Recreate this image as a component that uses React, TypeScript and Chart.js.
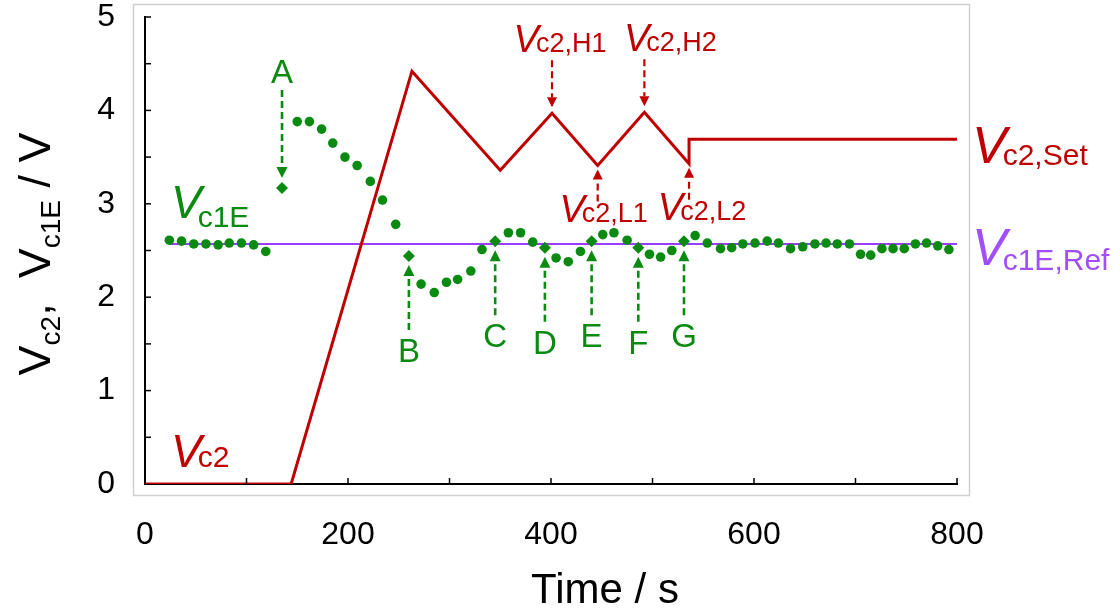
import React, { useEffect, useRef } from 'react';
import { Chart, registerables } from 'chart.js';

Chart.register(...registerables);

// ---------------- data ----------------
const vc2Time = [0, 144, 263, 350, 401, 446, 492, 536, 536, 800];
const vc2Values = [0, 0, 4.42, 3.36, 3.97, 3.41, 3.98, 3.43, 3.69, 3.69];

const vc1eTime = [
  24, 36, 48, 60, 72, 83, 95, 107, 119, 135,
  150, 162, 174, 185, 197, 209, 222, 234, 247, 260,
  272, 285, 297, 308, 321, 332, 345, 358, 370, 382,
  394, 405, 417, 429, 440, 451, 462, 475, 486, 497,
  508, 519, 531, 542, 554, 567, 578, 589, 601, 613,
  624, 636, 648, 660, 671, 682, 694, 705, 715, 726,
  737, 748, 759, 770, 781, 792,
];
const vc1eValues = [
  2.61, 2.60, 2.57, 2.57, 2.56, 2.58, 2.58, 2.56, 2.49, 3.17,
  3.88, 3.88, 3.80, 3.65, 3.50, 3.41, 3.24, 3.04, 2.78, 2.44,
  2.14, 2.05, 2.16, 2.19, 2.28, 2.51, 2.60, 2.69, 2.69, 2.59,
  2.53, 2.42, 2.38, 2.49, 2.60, 2.67, 2.69, 2.61, 2.53, 2.46,
  2.43, 2.50, 2.60, 2.66, 2.58, 2.52, 2.53, 2.57, 2.58, 2.60,
  2.58, 2.52, 2.54, 2.57, 2.58, 2.57, 2.57, 2.46, 2.45, 2.52,
  2.52, 2.52, 2.57, 2.58, 2.55, 2.51,
];

const refTime = [24, 800];
const refValues = [2.57, 2.57];

const markerLetters = ['A', 'B', 'C', 'D', 'E', 'F', 'G'];
const markerTimes = [135, 260, 345, 394, 440, 486, 531];

const xTickLabels = [0, 200, 400, 600, 800];
const yTickLabels = [0, 1, 2, 3, 4, 5];

const peakNames = ['c2,H1', 'c2,H2'];
const peakTimes = [401, 492];
const valleyNames = ['c2,L1', 'c2,L2'];
const valleyTimes = [446, 536];

// ---------------- styles ----------------
const RED = '#c00000';
const GREEN = '#0a8a10';
const PURPLE_LINE = '#9b3cff';
const PURPLE_TEXT = '#a24dff';
const FONT = '"Liberation Sans", Arial, Helvetica, sans-serif';

type Part = { text: string; font: string; dy?: number };

function drawRich(ctx: CanvasRenderingContext2D, x: number, y: number, parts: Part[], align: 'left' | 'center' = 'left', kern = 0) {
  let total = 0;
  const widths = parts.map((p) => {
    ctx.font = p.font;
    const w = ctx.measureText(p.text).width;
    total += w;
    return w;
  });
  total += kern * (parts.length - 1);
  let cx = align === 'center' ? x - total / 2 : x;
  ctx.textAlign = 'left';
  ctx.textBaseline = 'alphabetic';
  parts.forEach((p, i) => {
    ctx.font = p.font;
    ctx.fillText(p.text, cx, y + (p.dy || 0));
    cx += widths[i] + kern;
  });
}

function dashedArrow(ctx: CanvasRenderingContext2D, x: number, yTail: number, yTip: number, color: string, lw: number, head: number) {
  const dir = yTip > yTail ? 1 : -1;
  ctx.save();
  ctx.strokeStyle = color;
  ctx.fillStyle = color;
  ctx.lineWidth = lw;
  ctx.setLineDash([7, 4]);
  ctx.beginPath();
  ctx.moveTo(x, yTail);
  ctx.lineTo(x, yTip - dir * head);
  ctx.stroke();
  ctx.setLineDash([]);
  ctx.beginPath();
  ctx.moveTo(x, yTip);
  ctx.lineTo(x - head / 2, yTip - dir * head);
  ctx.lineTo(x + head / 2, yTip - dir * head);
  ctx.closePath();
  ctx.fill();
  ctx.restore();
}

const annotPlugin = {
  id: 'annot',
  beforeDraw(chart: any) {
    const ctx = chart.ctx as CanvasRenderingContext2D;
    ctx.save();
    ctx.fillStyle = '#fff';
    ctx.fillRect(0, 0, chart.width, chart.height);
    ctx.strokeStyle = '#d0d0d0';
    ctx.lineWidth = 1.5;
    ctx.strokeRect(133.5, 4.5, 836, 491);
    ctx.restore();
  },
  afterDraw(chart: any) {
    const ctx = chart.ctx as CanvasRenderingContext2D;
    const xs = chart.scales.x;
    const ys = chart.scales.y;
    const ca = chart.chartArea;
    ctx.save();
    // inward tick marks
    ctx.strokeStyle = '#000';
    ctx.lineWidth = 1.5;
    xs.ticks.forEach((t: any) => {
      if (t.value === 0) return;
      const px = xs.getPixelForValue(t.value);
      ctx.beginPath();
      ctx.moveTo(px, ca.bottom);
      ctx.lineTo(px, ca.bottom - 6);
      ctx.stroke();
    });
    ys.ticks.forEach((t: any) => {
      if (t.value === 0) return;
      const py = ys.getPixelForValue(t.value);
      ctx.beginPath();
      ctx.moveTo(ca.left, py);
      ctx.lineTo(ca.left + 6, py);
      ctx.stroke();
    });

    // axis titles
    ctx.fillStyle = '#000';
    ctx.save();
    ctx.translate(50, 254);
    ctx.rotate(-Math.PI / 2);
    drawRich(ctx, 0, 0, [
      { text: 'V', font: `45px ${FONT}` },
      { text: 'c2', font: `28px ${FONT}`, dy: 10 },
      { text: ',  V', font: `45px ${FONT}` },
      { text: 'c1E', font: `28px ${FONT}`, dy: 10 },
      { text: ' / V', font: `45px ${FONT}` },
    ], 'center');
    ctx.restore();
    ctx.font = `42px ${FONT}`;
    ctx.textAlign = 'center';
    ctx.textBaseline = 'alphabetic';
    ctx.fillText('Time / s', 605, 603);

    // series labels
    ctx.fillStyle = RED;
    drawRich(ctx, ca.left + 26, ys.getPixelForValue(0) - 17, [
      { text: 'V', font: `italic 46px ${FONT}` },
      { text: 'c2', font: `30px ${FONT}` },
    ], 'left', -4);
    ctx.fillStyle = GREEN;
    drawRich(ctx, ca.left + 26, ys.getPixelForValue(2.57) - 26, [
      { text: 'V', font: `italic 46px ${FONT}` },
      { text: 'c1E', font: `30px ${FONT}`, dy: 9 },
    ], 'left', -4);
    ctx.fillStyle = RED;
    drawRich(ctx, ca.right + 15, ys.getPixelForValue(vc2Values[vc2Values.length - 1]) + 24, [
      { text: 'V', font: `italic 52px ${FONT}` },
      { text: 'c2,Set', font: `30px ${FONT}`, dy: 2 },
    ], 'left', -4);
    ctx.fillStyle = PURPLE_TEXT;
    drawRich(ctx, ca.right + 15, ys.getPixelForValue(refValues[refValues.length - 1]) + 21, [
      { text: 'V', font: `italic 52px ${FONT}` },
      { text: 'c1E,Ref', font: `30px ${FONT}`, dy: 5 },
    ], 'left', -4);

    // green letter markers
    markerLetters.forEach((letter, i) => {
      const idx = vc1eTime.indexOf(markerTimes[i]);
      const px = xs.getPixelForValue(vc1eTime[idx]);
      const py = ys.getPixelForValue(vc1eValues[idx]);
      ctx.fillStyle = GREEN;
      ctx.font = `33px ${FONT}`;
      ctx.textAlign = 'center';
      ctx.textBaseline = 'alphabetic';
      if (i === 0) {
        const tip = py - 10;
        const tail = tip - 88;
        dashedArrow(ctx, px, tail, tip, GREEN, 2.6, 11);
        ctx.fillText(letter, px, tail - 7);
      } else {
        const tip = py + 9;
        const tail = tip + 65;
        dashedArrow(ctx, px, tail, tip, GREEN, 2.6, 11);
        ctx.fillText(letter, px, tail + 32);
      }
    });

    // red peak / valley markers
    const peakShift = [8, 26];
    peakNames.forEach((name, i) => {
      const idx = vc2Time.indexOf(peakTimes[i]);
      const px = xs.getPixelForValue(vc2Time[idx]);
      const py = ys.getPixelForValue(vc2Values[idx]);
      const tip = py - 6;
      const tail = tip - 47;
      dashedArrow(ctx, px, tail, tip, RED, 2.2, 10);
      ctx.fillStyle = RED;
      drawRich(ctx, px + peakShift[i], tail - 8, [
        { text: 'V', font: `italic 38px ${FONT}` },
        { text: name, font: `27px ${FONT}` },
      ], 'center', -3);
    });
    const valleyShift = [6, 13];
    valleyNames.forEach((name, i) => {
      const idx = vc2Time.indexOf(valleyTimes[i]);
      const px = xs.getPixelForValue(vc2Time[idx]);
      const py = ys.getPixelForValue(vc2Values[idx]);
      const tip = py + 4;
      const tail = tip + 32;
      dashedArrow(ctx, px, tail, tip, RED, 2.2, 10);
      ctx.fillStyle = RED;
      drawRich(ctx, px + valleyShift[i], tail + 20, [
        { text: 'V', font: `italic 38px ${FONT}` },
        { text: name, font: `27px ${FONT}` },
      ], 'center', -3);
    });
    ctx.restore();
  },
};

export default function App() {
  const ref = useRef<HTMLCanvasElement | null>(null);
  useEffect(() => {
    if (!ref.current) return;
    const vc2Data = vc2Time.map((t, i) => ({ x: t, y: vc2Values[i] }));
    const vc1eData = vc1eTime.map((t, i) => ({ x: t, y: vc1eValues[i] }));
    const refData = refTime.map((t, i) => ({ x: t, y: refValues[i] }));
    const isMarker = vc1eTime.map((t) => markerTimes.includes(t));
    const chart = new Chart(ref.current, {
      type: 'scatter',
      data: {
        datasets: [
          {
            label: 'Vc1E',
            data: vc1eData,
            showLine: false,
            pointStyle: isMarker.map((m) => (m ? 'rectRot' : 'circle')) as any,
            pointRadius: isMarker.map((m) => (m ? 6 : 4.8)) as any,
            backgroundColor: GREEN,
            borderColor: GREEN,
            borderWidth: 0,
            order: 0,
          },
          {
            label: 'Vc2',
            data: vc2Data,
            showLine: true,
            borderColor: RED,
            borderWidth: 3,
            pointRadius: 0,
            order: 1,
          },
          {
            label: 'Vc1E,Ref',
            data: refData,
            showLine: true,
            borderColor: PURPLE_LINE,
            borderWidth: 2,
            pointRadius: 0,
            order: 2,
          },
        ],
      },
      options: {
        responsive: false,
        animation: false,
        events: [],
        layout: { padding: { left: 0, top: 17, right: 163, bottom: 0 } },
        plugins: { legend: { display: false }, tooltip: { enabled: false } },
        scales: {
          x: {
            type: 'linear',
            min: 0,
            max: 800,
            grid: { display: false },
            border: { display: true, color: '#000', width: 2 },
            ticks: {
              stepSize: 100,
              autoSkip: false,
              maxRotation: 0,
              padding: 24,
              color: '#000',
              font: { family: FONT, size: 32 },
              callback: (v: any) => (xTickLabels.includes(Number(v)) ? String(v) : ''),
            },
            afterFit: (s: any) => {
              s.height = 132;
              s.paddingLeft = 0;
              s.paddingRight = 0;
            },
          },
          y: {
            type: 'linear',
            min: 0,
            max: 5,
            grid: { display: false },
            border: { display: true, color: '#000', width: 2 },
            ticks: {
              stepSize: 0.5,
              autoSkip: false,
              padding: 22,
              color: '#000',
              font: { family: FONT, size: 32 },
              callback: (v: any) => (yTickLabels.includes(Number(v)) ? String(v) : ''),
            },
            afterFit: (s: any) => {
              s.width = 145;
              s.paddingTop = 0;
              s.paddingBottom = 0;
            },
          },
        },
      },
      plugins: [annotPlugin],
    });
    return () => chart.destroy();
  }, []);
  return (
    <div style={{ position: 'absolute', left: 0, top: 0, width: 1120, height: 616 }}>
      <canvas ref={ref} width={1120} height={616} style={{ display: 'block' }} />
    </div>
  );
}
